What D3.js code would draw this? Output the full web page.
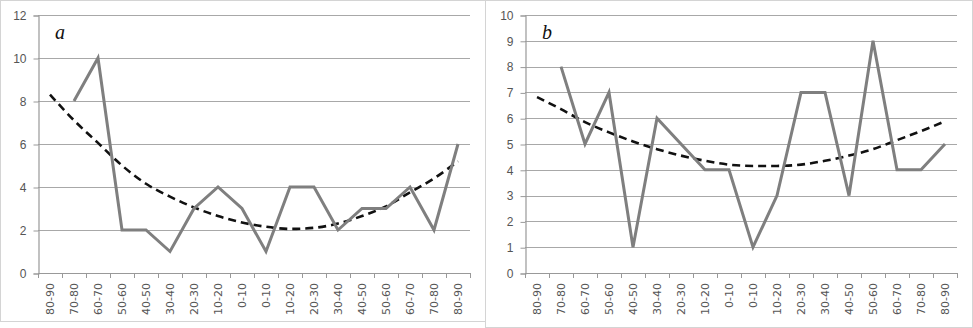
<!DOCTYPE html>
<html>
<head>
<meta charset="utf-8">
<script src="https://cdn.jsdelivr.net/npm/d3@7"></script>
<style>
  body { margin: 0; background: #fff; }
  svg { display: block; }
</style>
</head>
<body>
<svg id="chart" width="973" height="328"></svg>
<script>
// category labels (same for both panels)
const categories = ["80-90","70-80","60-70","50-60","40-50","30-40","20-30","10-20","0-10",
                    "0-10","10-20","20-30","30-40","40-50","50-60","60-70","70-80","80-90"];

// panel a
const seriesA = [null, 8, 10, 2, 2, 1, 3, 4, 3, 1, 4, 4, 2, 3, 3, 4, 2, 6];
const trendA  = [8.3, 7.1, 6.05, 5.0, 4.15, 3.55, 3.05, 2.65, 2.35, 2.15, 2.05, 2.1, 2.3, 2.65, 3.1, 3.75, 4.4, 5.2];
const ticksA  = [0, 2, 4, 6, 8, 10, 12];

// panel b
const seriesB = [null, 8, 5, 7, 1, 6, 5, 4, 4, 1, 3, 7, 7, 3, 9, 4, 4, 5];
const trendB  = [6.82, 6.35, 5.85, 5.45, 5.1, 4.8, 4.55, 4.35, 4.2, 4.15, 4.15, 4.2, 4.35, 4.55, 4.8, 5.15, 5.5, 5.88];
const ticksB  = [0, 1, 2, 3, 4, 5, 6, 7, 8, 9, 10];

const svg = d3.select("#chart");

// panel frames
svg.append("rect").attr("x", 0.5).attr("y", 0.5).attr("width", 485).attr("height", 321)
  .attr("fill", "none").attr("stroke", "#d4d4d4");
svg.append("rect").attr("x", 485.5).attr("y", 0.5).attr("width", 487).attr("height", 327)
  .attr("fill", "none").attr("stroke", "#d4d4d4");

function panel(opts) {
  const x = d3.scaleBand().domain(d3.range(categories.length))
    .range([opts.left, opts.right]);
  const y = d3.scaleLinear().domain([0, d3.max(opts.ticks)])
    .range([opts.bottom, opts.top]);
  const g = svg.append("g");

  // gridlines
  g.selectAll(".grid").data(opts.ticks.filter(t => t > 0)).enter().append("line")
    .attr("x1", opts.left).attr("x2", opts.right)
    .attr("y1", d => Math.round(y(d)) + 0.5).attr("y2", d => Math.round(y(d)) + 0.5)
    .attr("stroke", "#a8a8a8").attr("stroke-width", 1.2);

  // y axis
  const yAxis = g.append("g")
    .attr("transform", `translate(${opts.left + 0.5},0.5)`)
    .call(d3.axisLeft(y).tickValues(opts.ticks).tickSize(5).tickPadding(7));
  yAxis.select(".domain").attr("stroke", "#999").attr("stroke-width", 1.2);
  yAxis.selectAll(".tick line").attr("stroke", "#999");
  yAxis.selectAll("text")
    .attr("fill", "#555")
    .style("font-family", "'Liberation Sans', Arial, sans-serif")
    .style("font-size", "12px");

  // x axis: ticks at category boundaries
  const bounds = d3.range(categories.length + 1).map(i => opts.left + i * x.step());
  g.append("line").attr("x1", opts.left).attr("x2", opts.right)
    .attr("y1", Math.round(opts.bottom) + 0.5).attr("y2", Math.round(opts.bottom) + 0.5)
    .attr("stroke", "#999").attr("stroke-width", 1.2);
  g.selectAll(".xt").data(bounds).enter().append("line")
    .attr("x1", d => Math.round(d) + 0.5).attr("x2", d => Math.round(d) + 0.5)
    .attr("y1", Math.round(opts.bottom)).attr("y2", Math.round(opts.bottom) + 5)
    .attr("stroke", "#999");
  g.selectAll(".xl").data(categories).enter().append("text")
    .attr("transform", (d, i) => `translate(${x(i) + x.bandwidth() / 2},${opts.bottom + 10}) rotate(-90)`)
    .attr("text-anchor", "end")
    .attr("dy", "0.35em")
    .attr("fill", "#555")
    .style("font-family", "'DejaVu Sans', sans-serif")
    .style("font-size", "11px")
    .text(d => d);

  const cx = i => x(i) + x.bandwidth() / 2;

  // trend line (dashed)
  g.append("path").datum(opts.trend)
    .attr("fill", "none").attr("stroke", "#111").attr("stroke-width", 2.6)
    .attr("stroke-dasharray", "8,5")
    .attr("d", d3.line().curve(d3.curveMonotoneX).x((d, i) => cx(i)).y(d => y(d)));

  // data line
  g.append("path").datum(opts.series)
    .attr("fill", "none").attr("stroke", "#7f7f7f").attr("stroke-width", 3)
    .attr("stroke-linejoin", "miter")
    .attr("d", d3.line().defined(d => d != null).x((d, i) => cx(i)).y(d => y(d)));

  // panel letter
  g.append("text").attr("x", opts.labelX).attr("y", 39)
    .style("font-family", "'Liberation Serif', 'DejaVu Serif', serif")
    .style("font-style", "italic")
    .style("font-size", "20px")
    .attr("fill", "#111")
    .text(opts.label);
}

panel({ left: 38, right: 470, top: 15, bottom: 273, ticks: ticksA,
        series: seriesA, trend: trendA, label: "a", labelX: 55 });
panel({ left: 525, right: 957, top: 15, bottom: 273, ticks: ticksB,
        series: seriesB, trend: trendB, label: "b", labelX: 542 });
</script>
</body>
</html>
